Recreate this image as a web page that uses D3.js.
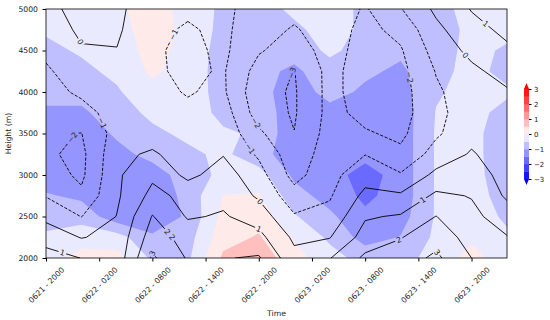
<!DOCTYPE html>
<html>
<head>
<meta charset="utf-8">
<script src="https://cdn.jsdelivr.net/npm/d3@7"></script>
<style>
  body { margin: 0; background: #fff; }
  text { font-family: "DejaVu Sans", sans-serif; fill: #222; }
</style>
</head>
<body>
<script>
// grid: hours after 0621 20:00, heights in metres
var hours = [0, 4, 8, 12, 16, 20, 24, 28, 32, 36, 40, 44, 48, 52];
var heights = [2000, 2250, 2500, 2750, 3000, 3250, 3500, 3750, 4000, 4250, 4500, 4750, 5000];

// shaded field, one row per height (2000 m first), one value per time
var shadeRows = [
  [-0.2, 0.15, 0.2, -0.6, -0.6, 0.6, 0.8, 0.2, -0.3, -0.7, -0.7, -0.3, 0.2, -0.3],
  [-0.4, -0.2, -0.3, -0.9, -0.7, 0.3, 0.55, -0.05, -0.6, -1.2, -0.98, -0.4, -0.1, -0.4],
  [-0.75, -0.7, -1.3, -1.45, -0.9, 0.15, 0.3, -0.45, -0.9, -1.4, -1.2, -0.45, -0.2, -0.6],
  [-0.95, -1.1, -1.4, -1.45, -0.8, 0.02, 0.05, -0.8, -1.2, -1.6, -1.3, -0.45, -0.3, -0.7],
  [-1.3, -1.4, -1.4, -1.3, -0.7, -0.4, -0.3, -1.1, -1.3, -1.7, -1.3, -0.45, -0.35, -0.75],
  [-1.4, -1.5, -1.2, -0.8, -0.6, -0.4, -0.8, -1.3, -1.3, -1.35, -1.3, -0.45, -0.4, -0.7],
  [-1.3, -1.4, -0.9, -0.6, -0.4, -0.45, -0.55, -1.4, -1.3, -1.3, -1.3, -0.45, -0.4, -0.7],
  [-1.1, -1.1, -0.7, -0.4, -0.3, -0.6, -0.6, -1.4, -1.2, -1.2, -1.3, -0.48, -0.4, -0.6],
  [-0.8, -0.8, -0.55, -0.2, -0.3, -0.65, -0.8, -1.3, -0.8, -1.1, -1.2, -0.55, -0.35, -0.45],
  [-0.7, -0.6, -0.4, 0.1, -0.25, -0.7, -0.85, -1.1, -0.7, -0.9, -1.1, -0.6, -0.4, -0.6],
  [-0.6, -0.45, -0.3, 0.2, -0.2, -0.7, -0.8, -0.8, -0.4, -0.7, -0.9, -0.65, -0.4, -0.55],
  [-0.45, -0.3, -0.2, 0.25, -0.15, -0.65, -0.75, -0.6, -0.3, -0.6, -0.8, -0.6, -0.45, -0.4],
  [-0.3, -0.2, -0.1, 0.25, -0.2, -0.6, -0.7, -0.4, -0.3, -0.6, -0.7, -0.55, -0.45, -0.45]
];

// contoured (line) field, same layout
var lineRows = [
  [1.4, 0.98, 0.4, 3.15, 1.9, 1.95, 2.1, 0.3, 0.95, 2.2, 2.5, 3.2, 2.0, 1.5],
  [0.6, -0.05, 0.3, 2.5, 1.6, 1.6, 1.3, -0.2, -0.05, 1.4, 1.95, 2.6, 1.6, 1.05],
  [-0.25, -1.02, 0.03, 2.05, 0.9, 1.1, 0.55, -0.9, -0.7, 0.9, 1.1, 2.02, 1.25, 0.5],
  [-1.05, -1.8, -0.15, 1.3, 0.7, 0.75, -0.15, -1.6, -1.1, 0.25, 0.15, 1.2, 0.95, -0.15],
  [-1.5, -2.2, -0.15, 0.8, -0.25, 0.45, -0.6, -2.35, -1.3, -0.4, -0.9, 0.25, 0.55, -0.4],
  [-1.85, -2.25, -0.25, 0.15, -0.55, -0.05, -1.15, -2.6, -1.5, -1.02, -1.8, -0.6, 0.1, -0.55],
  [-1.9, -2.02, -0.6, -0.5, -0.7, -0.3, -1.8, -2.98, -1.6, -1.9, -2.2, -1.15, -0.3, -0.6],
  [-1.6, -1.3, -0.65, -0.7, -0.85, -0.5, -2.5, -3.1, -1.7, -2.3, -2.4, -1.25, -0.5, -0.5],
  [-1.3, -0.85, -0.6, -0.8, -1.05, -0.85, -2.7, -3.1, -1.7, -2.5, -2.4, -1.15, -0.45, -0.1],
  [-1.1, -0.6, -0.35, -0.85, -1.2, -0.9, -2.4, -3.03, -1.7, -2.5, -2.3, -0.95, -0.2, 0.35],
  [-0.85, -0.1, -0.03, -0.85, -1.25, -0.8, -1.9, -2.5, -1.6, -2.4, -2.1, -0.6, 0.25, 0.85],
  [-0.6, 0.2, 0.15, -0.8, -1.1, -0.8, -1.6, -2.1, -1.5, -2.3, -1.7, -0.25, 0.7, 1.2],
  [-0.4, 0.5, 0.25, -0.7, -0.85, -0.75, -1.5, -1.7, -1.4, -2.1, -1.05, 0.2, 1.05, 1.5]
];

var fillLevels = [-3, -2.5, -2, -1.5, -1, -0.5, 0, 0.5, 1, 1.5, 2, 2.5, 3];
var lineLevels = [-3, -2, -1, 0, 1, 2, 3];

var tickHours = [0, 6, 12, 18, 24, 30, 36, 42, 48];
var tickLabels = ["0621 - 2000", "0622 - 0200", "0622 - 0800", "0622 - 1400", "0622 - 2000",
                  "0623 - 0200", "0623 - 0800", "0623 - 1400", "0623 - 2000"];
var heightTicks = [2000, 2500, 3000, 3500, 4000, 4500, 5000];
var barTicks = [-3, -2, -1, 0, 1, 2, 3];

// where the inline contour labels go (level, hour, height)
var labelLevels = [0, -1, -2, 1, 2, 3, -1, -3, -2, -1, 0, 1, 2, -2, 0, 1, 1, 2, 3];
var labelHours = [3.8, 6.4, 2.3, 1.8, 14.8, 13.6, 13.8, 26.1, 23.9, 23.2, 24.4, 24.1, 21.9, 42.2, 47.6, 49, 42.5, 39.7, 44.8];
var labelHeights = [4600, 3630, 3510, 2050, 2420, 2100, 4720, 4290, 3640, 3330, 2700, 2360, 2040, 4200, 4470, 4750, 2700, 2250, 2130];

var svg = d3.select("body").append("svg")
  .attr("width", 550)
  .attr("height", 320);

var x = d3.scaleLinear().domain([hours[0], hours[hours.length - 1]]).range([46, 507]);
var y = d3.scaleLinear().domain([heights[0], heights[heights.length - 1]]).range([258, 9]);

var nx = hours.length, ny = heights.length;
// d3.contours puts sample i at i + 0.5
var gx = d3.scaleLinear().domain([0.5, nx - 0.5]).range(x.range());
var gy = d3.scaleLinear().domain([0.5, ny - 0.5]).range(y.range());
var gridPath = d3.geoPath(d3.geoTransform({
  point: function(px, py) { this.stream.point(gx(px), gy(py)); }
}));

// matplotlib bwr over -3..3
function bwr(v) {
  var t = Math.max(0, Math.min(1, (v + 3) / 6));
  if (t < 0.5) {
    var c = Math.round(510 * t);
    return d3.rgb(c, c, 255) + "";
  }
  var c2 = Math.round(510 * (1 - t));
  return d3.rgb(255, c2, c2) + "";
}
function fmt(v) { return v < 0 ? "\u2212" + (-v) : String(v); }

var x0 = x.range()[0], x1 = x.range()[1], yTop = y.range()[1], yBot = y.range()[0];
var defs = svg.append("defs");
defs.append("clipPath").attr("id", "plotClip")
  .append("rect").attr("x", x0).attr("y", yTop).attr("width", x1 - x0).attr("height", yBot - yTop);
var mask = defs.append("mask").attr("id", "gapMask")
  .attr("maskUnits", "userSpaceOnUse").attr("x", 0).attr("y", 0).attr("width", 550).attr("height", 320);
mask.append("rect").attr("width", 550).attr("height", 320).attr("fill", "#fff");

// filled bands
var fillG = svg.append("g").attr("clip-path", "url(#plotClip)");
fillG.append("rect")
  .attr("x", x0).attr("y", yTop).attr("width", x1 - x0).attr("height", yBot - yTop)
  .attr("fill", bwr(-3.5));
var fillContours = d3.contours().size([nx, ny]).thresholds(fillLevels)(shadeRows.flat());
fillG.selectAll("path")
  .data(fillContours)
  .join("path")
  .attr("d", gridPath)
  .attr("fill", function(d) { return d.value >= 3 ? bwr(3.5) : bwr(d.value + 0.25); });

// contour lines
var lineContours = d3.contours().size([nx, ny]).thresholds(lineLevels)(lineRows.flat());
var lineG = svg.append("g").attr("clip-path", "url(#plotClip)")
  .append("g").attr("mask", "url(#gapMask)");
lineG.selectAll("path")
  .data(lineContours)
  .join("path")
  .attr("d", gridPath)
  .attr("fill", "none")
  .attr("stroke", "#000")
  .attr("stroke-width", 0.9)
  .attr("stroke-linejoin", "round")
  .attr("stroke-dasharray", function(d) { return d.value < 0 ? "3.2,1.6" : null; });

// inline labels, snapped onto the nearest piece of their contour
var labelG = svg.append("g");
labelLevels.forEach(function(lv, i) {
  var c = lineContours.find(function(d) { return d.value === lv; });
  var P = [x(labelHours[i]), y(labelHeights[i])];
  var best = null;
  c.coordinates.forEach(function(poly) {
    poly.forEach(function(ring) {
      for (var k = 0; k < ring.length - 1; k++) {
        var a = [gx(ring[k][0]), gy(ring[k][1])];
        var b = [gx(ring[k + 1][0]), gy(ring[k + 1][1])];
        var dx = b[0] - a[0], dy = b[1] - a[1], L2 = dx * dx + dy * dy;
        if (L2 === 0) continue;
        var u = Math.max(0, Math.min(1, ((P[0] - a[0]) * dx + (P[1] - a[1]) * dy) / L2));
        var q = [a[0] + u * dx, a[1] + u * dy];
        if (q[0] < x0 + 3 || q[0] > x1 - 3 || q[1] < yTop + 3 || q[1] > yBot - 3) continue;
        var dd = (q[0] - P[0]) * (q[0] - P[0]) + (q[1] - P[1]) * (q[1] - P[1]);
        if (!best || dd < best.d) best = { d: dd, q: q, ang: Math.atan2(dy, dx) * 180 / Math.PI };
      }
    });
  });
  if (!best) return;
  var ang = best.ang;
  if (ang > 90) ang -= 180;
  if (ang < -90) ang += 180;
  var tr = "translate(" + best.q[0] + "," + best.q[1] + ") rotate(" + ang + ")";
  var t = labelG.append("text")
    .attr("transform", tr)
    .attr("text-anchor", "middle")
    .attr("dy", "0.35em")
    .style("font-size", "7.7px")
    .text(fmt(lv));
  var w = t.node().getComputedTextLength();
  mask.append("rect")
    .attr("transform", tr)
    .attr("x", -w / 2 - 1.5).attr("y", -3.8)
    .attr("width", w + 3).attr("height", 7.6)
    .attr("fill", "#000");
});

// frame
svg.append("rect")
  .attr("x", x0).attr("y", yTop).attr("width", x1 - x0).attr("height", yBot - yTop)
  .attr("fill", "none").attr("stroke", "#000").attr("stroke-width", 0.8);

// axes
var yAxis = svg.append("g")
  .attr("transform", "translate(" + x0 + ",0)")
  .call(d3.axisLeft(y).tickValues(heightTicks).tickSize(3.5).tickPadding(4.5).tickFormat(d3.format("d")));
yAxis.select(".domain").remove();
yAxis.selectAll("text").style("font-size", "7.7px").attr("fill", "#222");

var xAxis = svg.append("g")
  .attr("transform", "translate(0," + yBot + ")")
  .call(d3.axisBottom(x).tickValues(tickHours).tickSize(3.5).tickFormat(function(d, i) { return tickLabels[i]; }));
xAxis.select(".domain").remove();
xAxis.selectAll("text")
  .attr("y", 0)
  .attr("dy", "0.35em")
  .attr("text-anchor", "middle")
  .attr("transform", "translate(0,27) rotate(-45)")
  .style("font-size", "7.7px")
  .attr("fill", "#222");

svg.append("text")
  .attr("x", (x0 + x1) / 2).attr("y", 313)
  .attr("text-anchor", "middle").attr("dy", "0.35em")
  .style("font-size", "7.7px")
  .text("Time");

svg.append("text")
  .attr("transform", "translate(8," + (yTop + yBot) / 2 + ") rotate(-90)")
  .attr("text-anchor", "middle").attr("dy", "0.35em")
  .style("font-size", "7.7px")
  .text("Height (m)");

// colorbar
var cb = d3.scaleLinear().domain([-3, 3]).range([179, 89]);
var cbX = 524, cbW = 5;
var cbG = svg.append("g");
cbG.selectAll("rect")
  .data(fillLevels.slice(0, -1))
  .join("rect")
  .attr("x", cbX).attr("width", cbW)
  .attr("y", function(d) { return cb(d + 0.5); })
  .attr("height", function(d) { return cb(d) - cb(d + 0.5) + 0.3; })
  .attr("fill", function(d) { return bwr(d + 0.25); });
cbG.append("path")
  .attr("d", "M" + cbX + "," + cb(3) + "L" + (cbX + cbW) + "," + cb(3) + "L" + (cbX + cbW / 2) + "," + (cb(3) - 6) + "Z")
  .attr("fill", bwr(3.5));
cbG.append("path")
  .attr("d", "M" + cbX + "," + cb(-3) + "L" + (cbX + cbW) + "," + cb(-3) + "L" + (cbX + cbW / 2) + "," + (cb(-3) + 6) + "Z")
  .attr("fill", bwr(-3.5));
var cbAxis = svg.append("g")
  .attr("transform", "translate(" + (cbX + cbW) + ",0)")
  .call(d3.axisRight(cb).tickValues(barTicks).tickSize(2.5).tickPadding(2.5).tickFormat(fmt));
cbAxis.select(".domain").remove();
cbAxis.selectAll("text").style("font-size", "7px").attr("fill", "#222");
</script>
</body>
</html>
